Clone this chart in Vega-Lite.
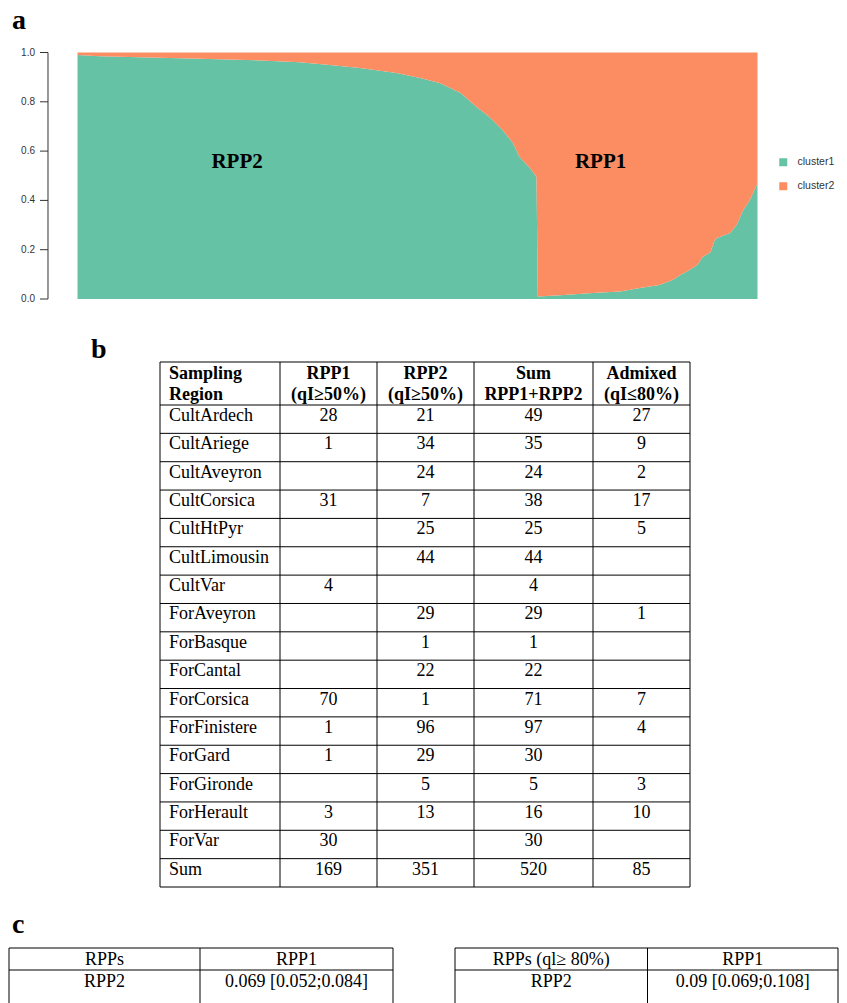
{
  "$schema": "https://vega.github.io/schema/vega-lite/v6.json",
  "width": 847,
  "height": 1003,
  "padding": 0,
  "autosize": {"type": "none"},
  "background": "white",
  "config": {"view": {"stroke": null}},
  "datasets": {
    "admix": [
      {"ind": 0, "cluster": "cluster1", "q": 0.99}, {"ind": 0, "cluster": "cluster2", "q": 0.01},
      {"ind": 17, "cluster": "cluster1", "q": 0.985}, {"ind": 17, "cluster": "cluster2", "q": 0.015},
      {"ind": 55, "cluster": "cluster1", "q": 0.98}, {"ind": 55, "cluster": "cluster2", "q": 0.02},
      {"ind": 94, "cluster": "cluster1", "q": 0.975}, {"ind": 94, "cluster": "cluster2", "q": 0.025},
      {"ind": 140, "cluster": "cluster1", "q": 0.968}, {"ind": 140, "cluster": "cluster2", "q": 0.032},
      {"ind": 170, "cluster": "cluster1", "q": 0.96}, {"ind": 170, "cluster": "cluster2", "q": 0.04},
      {"ind": 193, "cluster": "cluster1", "q": 0.949}, {"ind": 193, "cluster": "cluster2", "q": 0.051},
      {"ind": 216, "cluster": "cluster1", "q": 0.937}, {"ind": 216, "cluster": "cluster2", "q": 0.063},
      {"ind": 244, "cluster": "cluster1", "q": 0.917}, {"ind": 244, "cluster": "cluster2", "q": 0.083},
      {"ind": 262, "cluster": "cluster1", "q": 0.897}, {"ind": 262, "cluster": "cluster2", "q": 0.103},
      {"ind": 277, "cluster": "cluster1", "q": 0.876}, {"ind": 277, "cluster": "cluster2", "q": 0.124},
      {"ind": 293, "cluster": "cluster1", "q": 0.836}, {"ind": 293, "cluster": "cluster2", "q": 0.164},
      {"ind": 305, "cluster": "cluster1", "q": 0.78}, {"ind": 305, "cluster": "cluster2", "q": 0.22},
      {"ind": 315, "cluster": "cluster1", "q": 0.738}, {"ind": 315, "cluster": "cluster2", "q": 0.262},
      {"ind": 325, "cluster": "cluster1", "q": 0.686}, {"ind": 325, "cluster": "cluster2", "q": 0.314},
      {"ind": 333, "cluster": "cluster1", "q": 0.633}, {"ind": 333, "cluster": "cluster2", "q": 0.367},
      {"ind": 338, "cluster": "cluster1", "q": 0.576}, {"ind": 338, "cluster": "cluster2", "q": 0.424},
      {"ind": 346, "cluster": "cluster1", "q": 0.531}, {"ind": 346, "cluster": "cluster2", "q": 0.469},
      {"ind": 351, "cluster": "cluster1", "q": 0.495}, {"ind": 351, "cluster": "cluster2", "q": 0.505},
      {"ind": 352, "cluster": "cluster1", "q": 0.01}, {"ind": 352, "cluster": "cluster2", "q": 0.99},
      {"ind": 369, "cluster": "cluster1", "q": 0.015}, {"ind": 369, "cluster": "cluster2", "q": 0.985},
      {"ind": 397, "cluster": "cluster1", "q": 0.025}, {"ind": 397, "cluster": "cluster2", "q": 0.975},
      {"ind": 415, "cluster": "cluster1", "q": 0.03}, {"ind": 415, "cluster": "cluster2", "q": 0.97},
      {"ind": 430, "cluster": "cluster1", "q": 0.045}, {"ind": 430, "cluster": "cluster2", "q": 0.955},
      {"ind": 445, "cluster": "cluster1", "q": 0.057}, {"ind": 445, "cluster": "cluster2", "q": 0.943},
      {"ind": 455, "cluster": "cluster1", "q": 0.077}, {"ind": 455, "cluster": "cluster2", "q": 0.923},
      {"ind": 461, "cluster": "cluster1", "q": 0.097}, {"ind": 461, "cluster": "cluster2", "q": 0.903},
      {"ind": 468, "cluster": "cluster1", "q": 0.118}, {"ind": 468, "cluster": "cluster2", "q": 0.882},
      {"ind": 474, "cluster": "cluster1", "q": 0.138}, {"ind": 474, "cluster": "cluster2", "q": 0.862},
      {"ind": 478, "cluster": "cluster1", "q": 0.17}, {"ind": 478, "cluster": "cluster2", "q": 0.83},
      {"ind": 484, "cluster": "cluster1", "q": 0.19}, {"ind": 484, "cluster": "cluster2", "q": 0.81},
      {"ind": 487, "cluster": "cluster1", "q": 0.235}, {"ind": 487, "cluster": "cluster2", "q": 0.765},
      {"ind": 489, "cluster": "cluster1", "q": 0.247}, {"ind": 489, "cluster": "cluster2", "q": 0.753},
      {"ind": 499, "cluster": "cluster1", "q": 0.268}, {"ind": 499, "cluster": "cluster2", "q": 0.732},
      {"ind": 504, "cluster": "cluster1", "q": 0.3}, {"ind": 504, "cluster": "cluster2", "q": 0.7},
      {"ind": 509, "cluster": "cluster1", "q": 0.36}, {"ind": 509, "cluster": "cluster2", "q": 0.64},
      {"ind": 514, "cluster": "cluster1", "q": 0.4}, {"ind": 514, "cluster": "cluster2", "q": 0.6},
      {"ind": 520, "cluster": "cluster1", "q": 0.47}, {"ind": 520, "cluster": "cluster2", "q": 0.53}
    ],
    "ticks": [{"tick": 0}, {"tick": 0.2}, {"tick": 0.4}, {"tick": 0.6}, {"tick": 0.8}, {"tick": 1}],
    "tableB": [
      {"row": 1, "region": "CultArdech", "rpp1": 28, "rpp2": 21, "sum": 49, "admixed": 27},
      {"row": 2, "region": "CultAriege", "rpp1": 1, "rpp2": 34, "sum": 35, "admixed": 9},
      {"row": 3, "region": "CultAveyron", "rpp2": 24, "sum": 24, "admixed": 2},
      {"row": 4, "region": "CultCorsica", "rpp1": 31, "rpp2": 7, "sum": 38, "admixed": 17},
      {"row": 5, "region": "CultHtPyr", "rpp2": 25, "sum": 25, "admixed": 5},
      {"row": 6, "region": "CultLimousin", "rpp2": 44, "sum": 44},
      {"row": 7, "region": "CultVar", "rpp1": 4, "sum": 4},
      {"row": 8, "region": "ForAveyron", "rpp2": 29, "sum": 29, "admixed": 1},
      {"row": 9, "region": "ForBasque", "rpp2": 1, "sum": 1},
      {"row": 10, "region": "ForCantal", "rpp2": 22, "sum": 22},
      {"row": 11, "region": "ForCorsica", "rpp1": 70, "rpp2": 1, "sum": 71, "admixed": 7},
      {"row": 12, "region": "ForFinistere", "rpp1": 1, "rpp2": 96, "sum": 97, "admixed": 4},
      {"row": 13, "region": "ForGard", "rpp1": 1, "rpp2": 29, "sum": 30},
      {"row": 14, "region": "ForGironde", "rpp2": 5, "sum": 5, "admixed": 3},
      {"row": 15, "region": "ForHerault", "rpp1": 3, "rpp2": 13, "sum": 16, "admixed": 10},
      {"row": 16, "region": "ForVar", "rpp1": 30, "sum": 30},
      {"row": 17, "region": "Sum", "rpp1": 169, "rpp2": 351, "sum": 520, "admixed": 85}
    ],
    "headerB": [
      {"region": "Sampling\nRegion", "rpp1": "RPP1\n(qI≥50%)", "rpp2": "RPP2\n(qI≥50%)", "sum": "Sum\nRPP1+RPP2", "admixed": "Admixed\n(qI≤80%)"}
    ],
    "tableC": [
      {"table": "all", "row": 0, "c0": "RPPs", "c1": "RPP1"},
      {"table": "all", "row": 1, "c0": "RPP2", "c1": "0.069 [0.052;0.084]"},
      {"table": "strict", "row": 0, "c0": "RPPs (ql≥ 80%)", "c1": "RPP1"},
      {"table": "strict", "row": 1, "c0": "RPP2", "c1": "0.09 [0.069;0.108]"}
    ]
  },
  "layer": [
    {
      "layer": [
        {
          "data": {"name": "admix"},
          "mark": {"type": "area", "interpolate": "linear"},
          "encoding": {
            "x": {"field": "ind", "type": "quantitative", "scale": {"domain": [0, 520], "range": [77.5, 757.5], "nice": false, "zero": false}, "axis": null},
            "y": {"field": "q", "type": "quantitative", "stack": "zero", "scale": {"domain": [0, 1], "range": [299, 52.5], "nice": false}, "axis": null},
            "color": {"field": "cluster", "type": "nominal", "scale": {"domain": ["cluster1", "cluster2"], "range": ["#66C2A5", "#FC8D62"]},
              "legend": {"orient": "none", "legendX": 778, "legendY": 157, "title": null, "symbolType": "square", "symbolSize": 64, "symbolStrokeWidth": 0, "labelFont": "Liberation Sans", "labelFontSize": 10.5, "labelColor": "#333", "labelOffset": 9, "rowPadding": 13, "padding": 0}},
            "order": {"field": "cluster", "sort": "ascending"}
          }
        },
        {
          "data": {"values": [{}]},
          "mark": {"type": "rule", "color": "#333", "strokeWidth": 1},
          "encoding": {
            "x": {"datum": -22.56, "type": "quantitative", "scale": {"domain": [0, 520], "range": [77.5, 757.5], "nice": false, "zero": false}, "axis": null},
            "y": {"datum": 0, "type": "quantitative", "scale": {"domain": [0, 1], "range": [299, 52.5], "nice": false}, "axis": null},
            "y2": {"datum": 1}
          }
        },
        {
          "data": {"name": "ticks"},
          "mark": {"type": "rule", "color": "#333", "strokeWidth": 1},
          "encoding": {
            "x": {"datum": -22.56, "type": "quantitative", "scale": {"domain": [0, 520], "range": [77.5, 757.5], "nice": false, "zero": false}, "axis": null},
            "x2": {"datum": -28.7},
            "y": {"field": "tick", "type": "quantitative", "scale": {"domain": [0, 1], "range": [299, 52.5], "nice": false}, "axis": null}
          }
        },
        {
          "data": {"name": "ticks"},
          "mark": {"type": "text", "font": "Liberation Sans", "fontSize": 10, "color": "#333", "align": "right", "baseline": "middle"},
          "encoding": {
            "x": {"datum": -32.5, "type": "quantitative", "scale": {"domain": [0, 520], "range": [77.5, 757.5], "nice": false, "zero": false}, "axis": null},
            "y": {"field": "tick", "type": "quantitative", "scale": {"domain": [0, 1], "range": [299, 52.5], "nice": false}, "axis": null},
            "text": {"field": "tick", "type": "quantitative", "format": ".1f"}
          }
        },
        {
          "data": {"values": [{"label": "RPP2", "ind": 122, "q": 0.556}, {"label": "RPP1", "ind": 400, "q": 0.556}]},
          "mark": {"type": "text", "font": "Liberation Serif", "fontWeight": "bold", "fontSize": 21, "align": "center", "baseline": "middle", "color": "black"},
          "encoding": {
            "x": {"field": "ind", "type": "quantitative", "scale": {"domain": [0, 520], "range": [77.5, 757.5], "nice": false, "zero": false}, "axis": null},
            "y": {"field": "q", "type": "quantitative", "stack": null, "scale": {"domain": [0, 1], "range": [299, 52.5], "nice": false}, "axis": null},
            "text": {"field": "label"}
          }
        },
        {
          "data": {"values": [{"label": "a", "ind": -50, "q": 1.095}]},
          "mark": {"type": "text", "font": "Liberation Serif", "fontWeight": "bold", "fontSize": 28, "align": "left", "baseline": "alphabetic", "color": "black"},
          "encoding": {
            "x": {"field": "ind", "type": "quantitative", "scale": {"domain": [0, 520], "range": [77.5, 757.5], "nice": false, "zero": false}, "axis": null},
            "y": {"field": "q", "type": "quantitative", "stack": null, "scale": {"domain": [0, 1], "range": [299, 52.5], "nice": false}, "axis": null},
            "text": {"field": "label"}
          }
        }
      ]
    },
    {
      "layer": [
        {
          "data": {"values": [{"hb": 0}, {"hb": 1}, {"hb": 2}, {"hb": 3}, {"hb": 4}, {"hb": 5}, {"hb": 6}, {"hb": 7}, {"hb": 8}, {"hb": 9}, {"hb": 10}, {"hb": 11}, {"hb": 12}, {"hb": 13}, {"hb": 14}, {"hb": 15}, {"hb": 16}, {"hb": 17}, {"hb": 18}]},
          "mark": {"type": "rule", "color": "black", "strokeWidth": 1},
          "encoding": {
            "x": {"datum": 0, "type": "quantitative", "scale": {"domain": [0, 1, 2, 3, 4, 5], "range": [160, 280, 377, 474, 593, 690], "nice": false, "zero": false}, "axis": null},
            "x2": {"datum": 5},
            "y": {"field": "hb", "type": "quantitative", "scale": {"domain": [0, 1, 18], "range": [362, 405, 887], "nice": false, "zero": false}, "axis": null}
          }
        },
        {
          "data": {"values": [{"vb": 0}, {"vb": 1}, {"vb": 2}, {"vb": 3}, {"vb": 4}, {"vb": 5}]},
          "mark": {"type": "rule", "color": "black", "strokeWidth": 1},
          "encoding": {
            "x": {"field": "vb", "type": "quantitative", "scale": {"domain": [0, 1, 2, 3, 4, 5], "range": [160, 280, 377, 474, 593, 690], "nice": false, "zero": false}, "axis": null},
            "y": {"datum": 0, "type": "quantitative", "scale": {"domain": [0, 1, 18], "range": [362, 405, 887], "nice": false, "zero": false}, "axis": null},
            "y2": {"datum": 18}
          }
        },
        {
          "data": {"name": "headerB"},
          "mark": {"type": "text", "font": "Liberation Serif", "fontWeight": "bold", "fontSize": 18, "align": "left", "baseline": "alphabetic", "lineBreak": "\n", "lineHeight": 21, "dx": 9, "dy": 17, "color": "black"},
          "encoding": {
            "x": {"datum": 0, "type": "quantitative", "scale": {"domain": [0, 1, 2, 3, 4, 5], "range": [160, 280, 377, 474, 593, 690], "nice": false, "zero": false}, "axis": null},
            "y": {"datum": 0, "type": "quantitative", "scale": {"domain": [0, 1, 18], "range": [362, 405, 887], "nice": false, "zero": false}, "axis": null},
            "text": {"field": "region"}
          }
        },
        {
          "data": {"name": "headerB"},
          "mark": {"type": "text", "font": "Liberation Serif", "fontWeight": "bold", "fontSize": 18, "align": "center", "baseline": "alphabetic", "lineBreak": "\n", "lineHeight": 21, "dy": 17, "color": "black"},
          "encoding": {
            "x": {"datum": 1.5, "type": "quantitative", "scale": {"domain": [0, 1, 2, 3, 4, 5], "range": [160, 280, 377, 474, 593, 690], "nice": false, "zero": false}, "axis": null},
            "y": {"datum": 0, "type": "quantitative", "scale": {"domain": [0, 1, 18], "range": [362, 405, 887], "nice": false, "zero": false}, "axis": null},
            "text": {"field": "rpp1"}
          }
        },
        {
          "data": {"name": "headerB"},
          "mark": {"type": "text", "font": "Liberation Serif", "fontWeight": "bold", "fontSize": 18, "align": "center", "baseline": "alphabetic", "lineBreak": "\n", "lineHeight": 21, "dy": 17, "color": "black"},
          "encoding": {
            "x": {"datum": 2.5, "type": "quantitative", "scale": {"domain": [0, 1, 2, 3, 4, 5], "range": [160, 280, 377, 474, 593, 690], "nice": false, "zero": false}, "axis": null},
            "y": {"datum": 0, "type": "quantitative", "scale": {"domain": [0, 1, 18], "range": [362, 405, 887], "nice": false, "zero": false}, "axis": null},
            "text": {"field": "rpp2"}
          }
        },
        {
          "data": {"name": "headerB"},
          "mark": {"type": "text", "font": "Liberation Serif", "fontWeight": "bold", "fontSize": 18, "align": "center", "baseline": "alphabetic", "lineBreak": "\n", "lineHeight": 21, "dy": 17, "color": "black"},
          "encoding": {
            "x": {"datum": 3.5, "type": "quantitative", "scale": {"domain": [0, 1, 2, 3, 4, 5], "range": [160, 280, 377, 474, 593, 690], "nice": false, "zero": false}, "axis": null},
            "y": {"datum": 0, "type": "quantitative", "scale": {"domain": [0, 1, 18], "range": [362, 405, 887], "nice": false, "zero": false}, "axis": null},
            "text": {"field": "sum"}
          }
        },
        {
          "data": {"name": "headerB"},
          "mark": {"type": "text", "font": "Liberation Serif", "fontWeight": "bold", "fontSize": 18, "align": "center", "baseline": "alphabetic", "lineBreak": "\n", "lineHeight": 21, "dy": 17, "color": "black"},
          "encoding": {
            "x": {"datum": 4.5, "type": "quantitative", "scale": {"domain": [0, 1, 2, 3, 4, 5], "range": [160, 280, 377, 474, 593, 690], "nice": false, "zero": false}, "axis": null},
            "y": {"datum": 0, "type": "quantitative", "scale": {"domain": [0, 1, 18], "range": [362, 405, 887], "nice": false, "zero": false}, "axis": null},
            "text": {"field": "admixed"}
          }
        },
        {
          "data": {"name": "tableB"},
          "mark": {"type": "text", "font": "Liberation Serif", "fontSize": 18, "align": "left", "baseline": "alphabetic", "dx": 9, "dy": 16, "color": "black"},
          "encoding": {
            "x": {"datum": 0, "type": "quantitative", "scale": {"domain": [0, 1, 2, 3, 4, 5], "range": [160, 280, 377, 474, 593, 690], "nice": false, "zero": false}, "axis": null},
            "y": {"field": "row", "type": "quantitative", "scale": {"domain": [0, 1, 18], "range": [362, 405, 887], "nice": false, "zero": false}, "axis": null},
            "text": {"field": "region"}
          }
        },
        {
          "data": {"name": "tableB"},
          "transform": [{"filter": "isValid(datum.rpp1)"}],
          "mark": {"type": "text", "font": "Liberation Serif", "fontSize": 18, "align": "center", "baseline": "alphabetic", "dy": 16, "color": "black"},
          "encoding": {
            "x": {"datum": 1.5, "type": "quantitative", "scale": {"domain": [0, 1, 2, 3, 4, 5], "range": [160, 280, 377, 474, 593, 690], "nice": false, "zero": false}, "axis": null},
            "y": {"field": "row", "type": "quantitative", "scale": {"domain": [0, 1, 18], "range": [362, 405, 887], "nice": false, "zero": false}, "axis": null},
            "text": {"field": "rpp1", "type": "nominal"}
          }
        },
        {
          "data": {"name": "tableB"},
          "transform": [{"filter": "isValid(datum.rpp2)"}],
          "mark": {"type": "text", "font": "Liberation Serif", "fontSize": 18, "align": "center", "baseline": "alphabetic", "dy": 16, "color": "black"},
          "encoding": {
            "x": {"datum": 2.5, "type": "quantitative", "scale": {"domain": [0, 1, 2, 3, 4, 5], "range": [160, 280, 377, 474, 593, 690], "nice": false, "zero": false}, "axis": null},
            "y": {"field": "row", "type": "quantitative", "scale": {"domain": [0, 1, 18], "range": [362, 405, 887], "nice": false, "zero": false}, "axis": null},
            "text": {"field": "rpp2", "type": "nominal"}
          }
        },
        {
          "data": {"name": "tableB"},
          "transform": [{"filter": "isValid(datum.sum)"}],
          "mark": {"type": "text", "font": "Liberation Serif", "fontSize": 18, "align": "center", "baseline": "alphabetic", "dy": 16, "color": "black"},
          "encoding": {
            "x": {"datum": 3.5, "type": "quantitative", "scale": {"domain": [0, 1, 2, 3, 4, 5], "range": [160, 280, 377, 474, 593, 690], "nice": false, "zero": false}, "axis": null},
            "y": {"field": "row", "type": "quantitative", "scale": {"domain": [0, 1, 18], "range": [362, 405, 887], "nice": false, "zero": false}, "axis": null},
            "text": {"field": "sum", "type": "nominal"}
          }
        },
        {
          "data": {"name": "tableB"},
          "transform": [{"filter": "isValid(datum.admixed)"}],
          "mark": {"type": "text", "font": "Liberation Serif", "fontSize": 18, "align": "center", "baseline": "alphabetic", "dy": 16, "color": "black"},
          "encoding": {
            "x": {"datum": 4.5, "type": "quantitative", "scale": {"domain": [0, 1, 2, 3, 4, 5], "range": [160, 280, 377, 474, 593, 690], "nice": false, "zero": false}, "axis": null},
            "y": {"field": "row", "type": "quantitative", "scale": {"domain": [0, 1, 18], "range": [362, 405, 887], "nice": false, "zero": false}, "axis": null},
            "text": {"field": "admixed", "type": "nominal"}
          }
        },
        {
          "data": {"values": [{"label": "b", "col": -0.575, "row": -0.093}]},
          "mark": {"type": "text", "font": "Liberation Serif", "fontWeight": "bold", "fontSize": 28, "align": "left", "baseline": "alphabetic", "color": "black"},
          "encoding": {
            "x": {"field": "col", "type": "quantitative", "scale": {"domain": [0, 1, 2, 3, 4, 5], "range": [160, 280, 377, 474, 593, 690], "nice": false, "zero": false}, "axis": null},
            "y": {"field": "row", "type": "quantitative", "scale": {"domain": [0, 1, 18], "range": [362, 405, 887], "nice": false, "zero": false}, "axis": null},
            "text": {"field": "label"}
          }
        }
      ]
    },
    {
      "layer": [
        {
          "data": {"values": [{"hb": 0}, {"hb": 1}]},
          "mark": {"type": "rule", "color": "black", "strokeWidth": 1},
          "encoding": {
            "x": {"datum": 0, "type": "quantitative", "scale": {"domain": [0, 1, 2, 3, 4, 5], "range": [9, 200, 393, 455, 647.5, 838], "nice": false, "zero": false}, "axis": null},
            "x2": {"datum": 2},
            "y": {"field": "hb", "type": "quantitative", "scale": {"domain": [0, 1, 2], "range": [948, 970, 1003], "nice": false, "zero": false}, "axis": null}
          }
        },
        {
          "data": {"values": [{"hb": 0}, {"hb": 1}]},
          "mark": {"type": "rule", "color": "black", "strokeWidth": 1},
          "encoding": {
            "x": {"datum": 3, "type": "quantitative", "scale": {"domain": [0, 1, 2, 3, 4, 5], "range": [9, 200, 393, 455, 647.5, 838], "nice": false, "zero": false}, "axis": null},
            "x2": {"datum": 5},
            "y": {"field": "hb", "type": "quantitative", "scale": {"domain": [0, 1, 2], "range": [948, 970, 1003], "nice": false, "zero": false}, "axis": null}
          }
        },
        {
          "data": {"values": [{"vb": 0}, {"vb": 1}, {"vb": 2}, {"vb": 3}, {"vb": 4}, {"vb": 5}]},
          "mark": {"type": "rule", "color": "black", "strokeWidth": 1},
          "encoding": {
            "x": {"field": "vb", "type": "quantitative", "scale": {"domain": [0, 1, 2, 3, 4, 5], "range": [9, 200, 393, 455, 647.5, 838], "nice": false, "zero": false}, "axis": null},
            "y": {"datum": 0, "type": "quantitative", "scale": {"domain": [0, 1, 2], "range": [948, 970, 1003], "nice": false, "zero": false}, "axis": null},
            "y2": {"datum": 2}
          }
        },
        {
          "data": {"name": "tableC"},
          "transform": [{"filter": "datum.table == 'all'"}],
          "mark": {"type": "text", "font": "Liberation Serif", "fontSize": 18, "align": "center", "baseline": "alphabetic", "dy": 17, "color": "black"},
          "encoding": {
            "x": {"datum": 0.5, "type": "quantitative", "scale": {"domain": [0, 1, 2, 3, 4, 5], "range": [9, 200, 393, 455, 647.5, 838], "nice": false, "zero": false}, "axis": null},
            "y": {"field": "row", "type": "quantitative", "scale": {"domain": [0, 1, 2], "range": [948, 970, 1003], "nice": false, "zero": false}, "axis": null},
            "text": {"field": "c0"}
          }
        },
        {
          "data": {"name": "tableC"},
          "transform": [{"filter": "datum.table == 'all'"}],
          "mark": {"type": "text", "font": "Liberation Serif", "fontSize": 18, "align": "center", "baseline": "alphabetic", "dy": 17, "color": "black"},
          "encoding": {
            "x": {"datum": 1.5, "type": "quantitative", "scale": {"domain": [0, 1, 2, 3, 4, 5], "range": [9, 200, 393, 455, 647.5, 838], "nice": false, "zero": false}, "axis": null},
            "y": {"field": "row", "type": "quantitative", "scale": {"domain": [0, 1, 2], "range": [948, 970, 1003], "nice": false, "zero": false}, "axis": null},
            "text": {"field": "c1"}
          }
        },
        {
          "data": {"name": "tableC"},
          "transform": [{"filter": "datum.table == 'strict'"}],
          "mark": {"type": "text", "font": "Liberation Serif", "fontSize": 18, "align": "center", "baseline": "alphabetic", "dy": 17, "color": "black"},
          "encoding": {
            "x": {"datum": 3.5, "type": "quantitative", "scale": {"domain": [0, 1, 2, 3, 4, 5], "range": [9, 200, 393, 455, 647.5, 838], "nice": false, "zero": false}, "axis": null},
            "y": {"field": "row", "type": "quantitative", "scale": {"domain": [0, 1, 2], "range": [948, 970, 1003], "nice": false, "zero": false}, "axis": null},
            "text": {"field": "c0"}
          }
        },
        {
          "data": {"name": "tableC"},
          "transform": [{"filter": "datum.table == 'strict'"}],
          "mark": {"type": "text", "font": "Liberation Serif", "fontSize": 18, "align": "center", "baseline": "alphabetic", "dy": 17, "color": "black"},
          "encoding": {
            "x": {"datum": 4.5, "type": "quantitative", "scale": {"domain": [0, 1, 2, 3, 4, 5], "range": [9, 200, 393, 455, 647.5, 838], "nice": false, "zero": false}, "axis": null},
            "y": {"field": "row", "type": "quantitative", "scale": {"domain": [0, 1, 2], "range": [948, 970, 1003], "nice": false, "zero": false}, "axis": null},
            "text": {"field": "c1"}
          }
        },
        {
          "data": {"values": [{"label": "c", "col": 0.016, "row": -0.68}]},
          "mark": {"type": "text", "font": "Liberation Serif", "fontWeight": "bold", "fontSize": 28, "align": "left", "baseline": "alphabetic", "color": "black"},
          "encoding": {
            "x": {"field": "col", "type": "quantitative", "scale": {"domain": [0, 1, 2, 3, 4, 5], "range": [9, 200, 393, 455, 647.5, 838], "nice": false, "zero": false}, "axis": null},
            "y": {"field": "row", "type": "quantitative", "scale": {"domain": [0, 1, 2], "range": [948, 970, 1003], "nice": false, "zero": false}, "axis": null},
            "text": {"field": "label"}
          }
        }
      ]
    }
  ],
  "resolve": {"scale": {"x": "independent", "y": "independent"}}
}
